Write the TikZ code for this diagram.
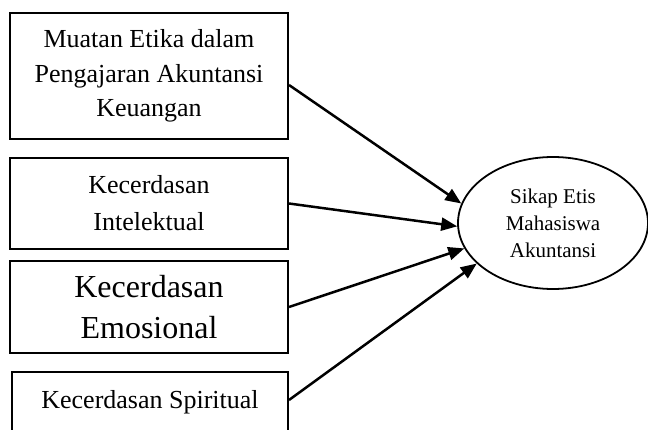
\documentclass[tikz,border=0pt]{standalone}
\usepackage{fontspec}
\setmainfont{Liberation Serif}
\usetikzlibrary{shapes.geometric,arrows.meta}
\begin{document}
\begin{tikzpicture}[x=1pt,y=-1pt,
  box/.style={draw,line width=2pt,rectangle,align=center,inner sep=0pt},
  oval/.style={draw,line width=1.8pt,ellipse,align=center,inner sep=0pt,minimum width=190pt,minimum height=132pt},
  conn/.style={line width=2.5pt,-{Triangle[length=16pt,width=13pt]}}]
\useasboundingbox (0,0) rectangle (648,430);
\begin{scope}
\clip (0,0) rectangle (648,430);
\node[box,minimum width=278pt,minimum height=126pt,font=\fontsize{26}{34.5}\selectfont] (b1) at (149,76)
  {Muatan Etika dalam\\Pengajaran Akuntansi\\Keuangan};
\node[box,minimum width=278pt,minimum height=91pt,font=\fontsize{26}{37}\selectfont] (b2) at (149,203.5)
  {Kecerdasan\\Intelektual};
\node[box,minimum width=278pt,minimum height=92pt,font=\fontsize{32}{41}\selectfont] (b3) at (149,307)
  {Kecerdasan\\Emosional};
\node[box,anchor=north,minimum width=276pt,text height=30pt,text depth=80pt,inner ysep=6pt,font=\fontsize{26}{34}\selectfont] (b4) at (150,371)
  {Kecerdasan Spiritual};
\node[oval,font=\fontsize{21}{27}\selectfont] (e) at (553,223)
  {Sikap Etis\\Mahasiswa\\Akuntansi};
\end{scope}
\draw[conn] ([yshift=-9pt]b1.east) -- (e.168);
\draw[conn] (b2.east) -- (e.182);
\draw[conn] (b3.east) -- (e.196);
\draw[conn] ([yshift=-29pt]b4.north east) -- (e.208);
\end{tikzpicture}
\end{document}
